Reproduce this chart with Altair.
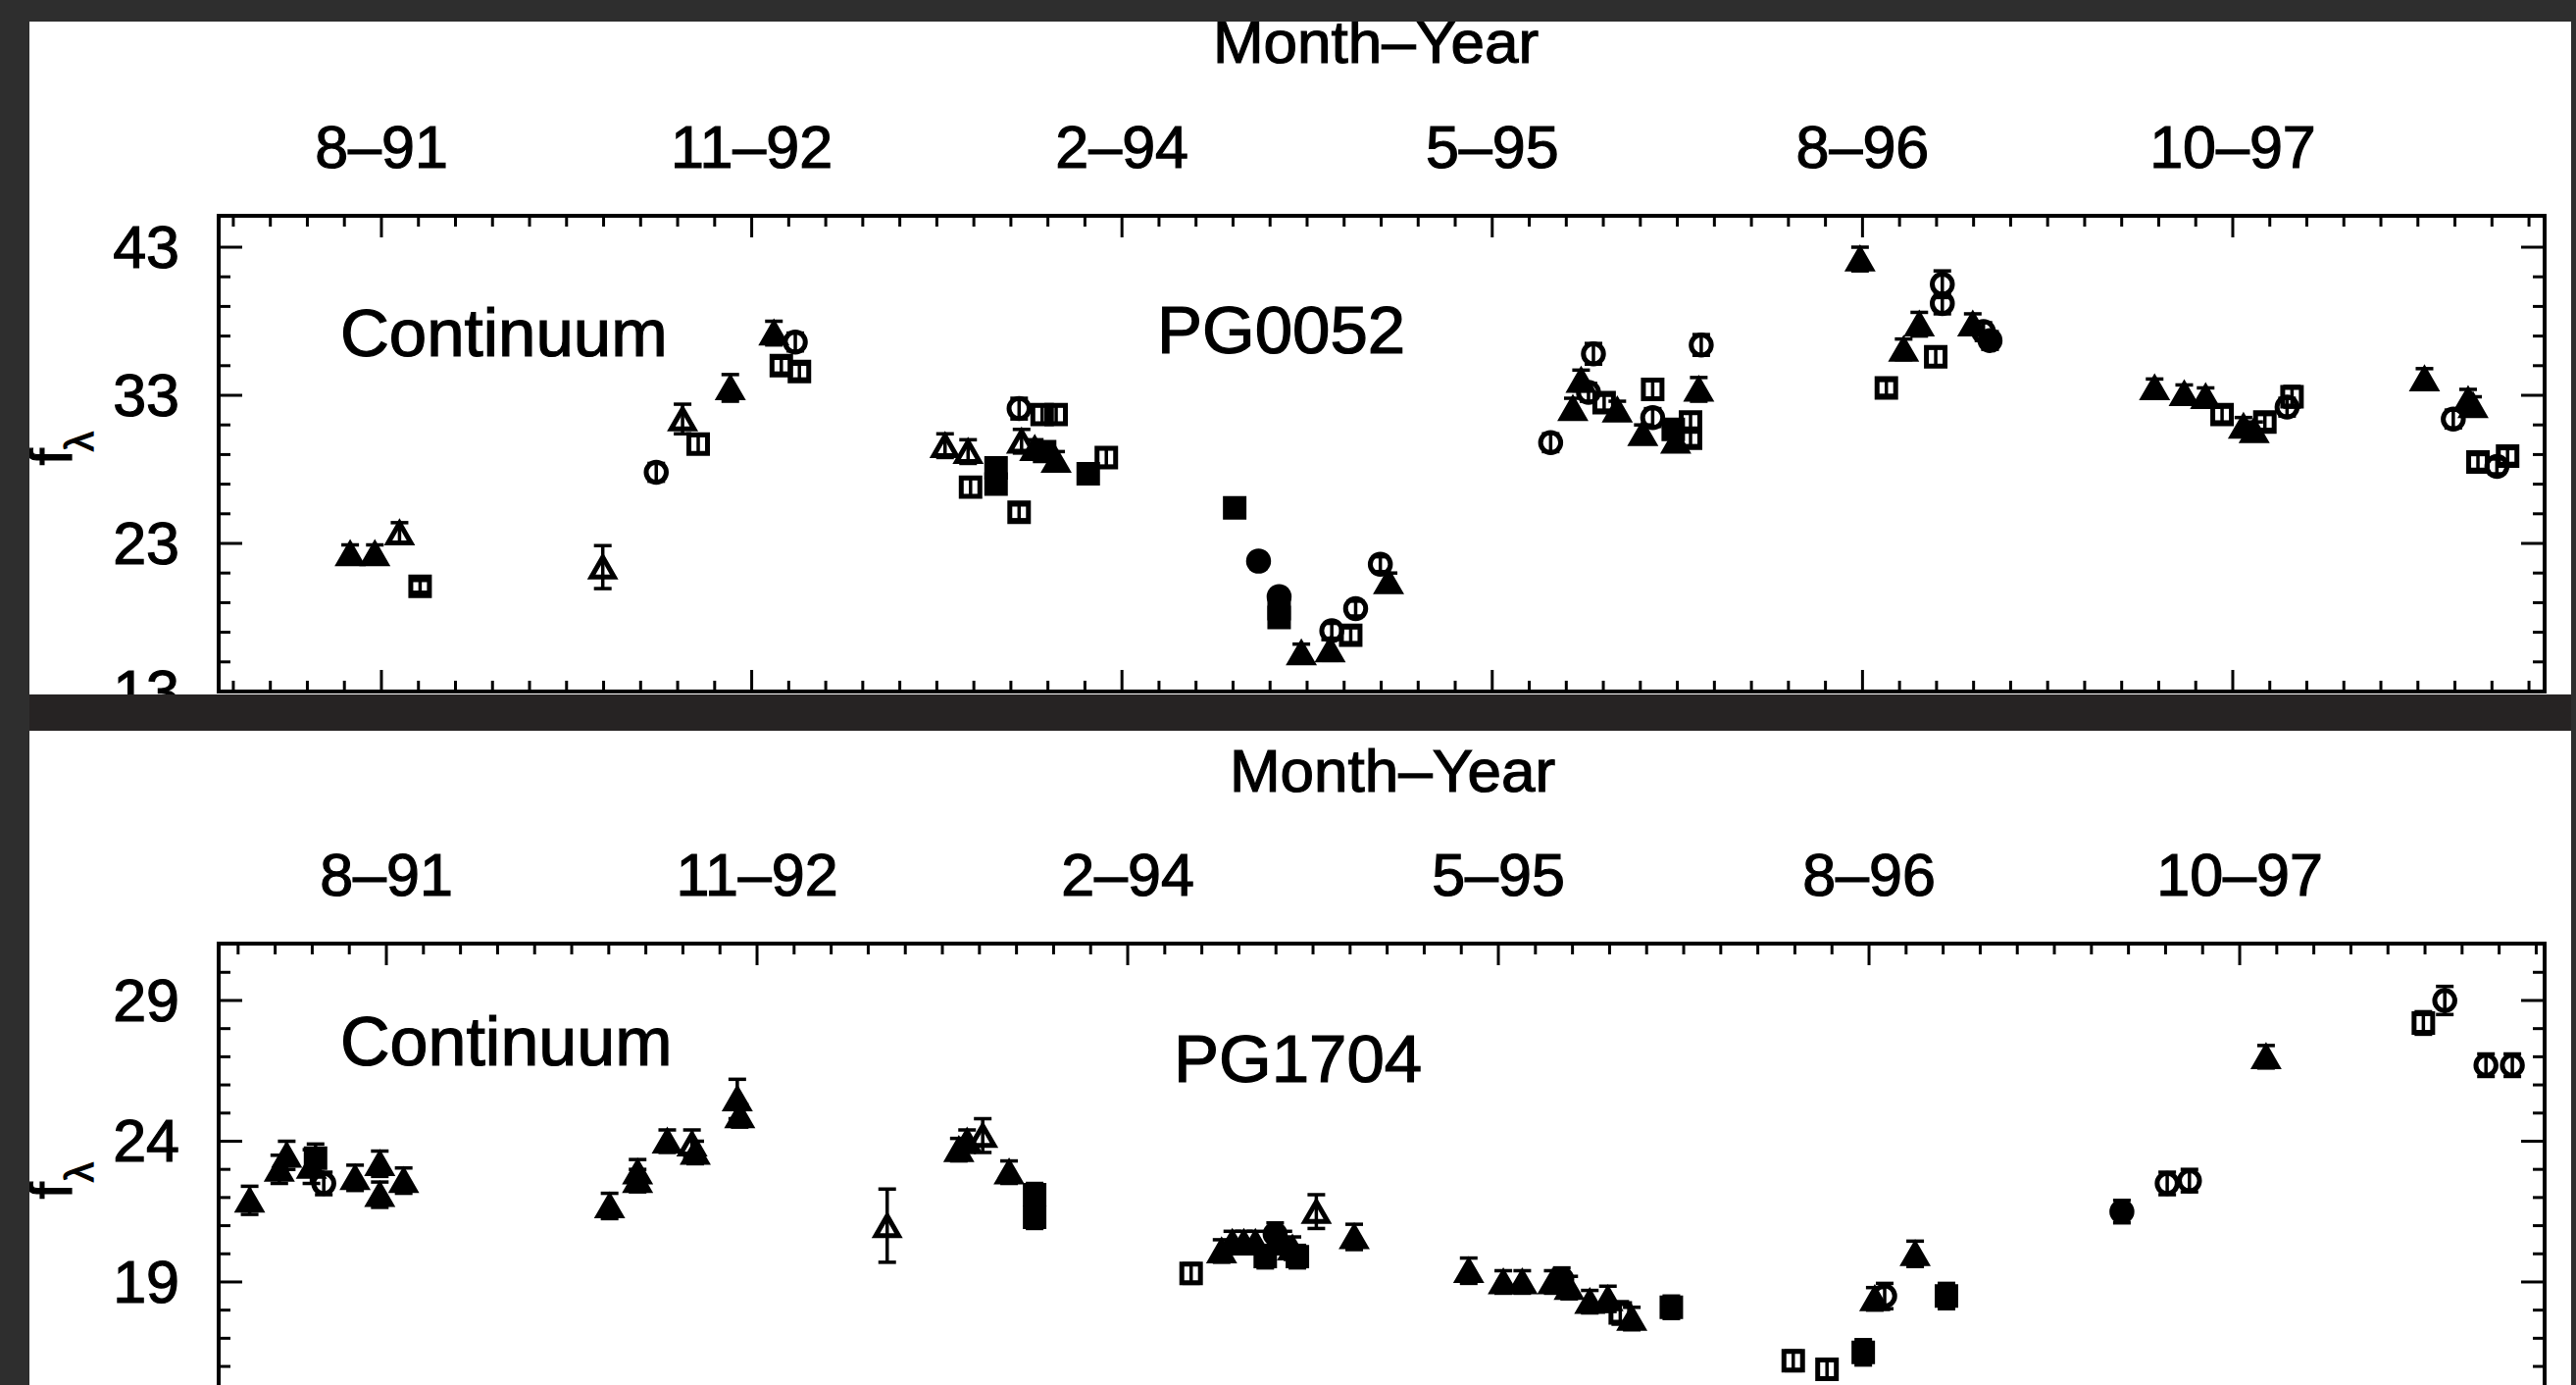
import altair as alt
import pandas as pd

FONT = "Liberation Sans"
PAGE = "#2e2e2e"
GAP = "#262323"
PLOT_W = 2372

# x positions are days counted from the 8-91 mark; labelled marks every 450 days
TICK_LABELS = ["8–91", "11–92", "2–94", "5–95", "8–96", "10–97"]
MAJOR_DAYS = [0, 450, 900, 1350, 1800, 2250]
MINOR_STEP = 45

# symbol codes: filled / open triangle, open / filled square, open / filled circle
SYMBOLS = ["tri", "otri", "sq", "fsq", "circ", "fcirc"]
SHAPES = ["triangle-up", "triangle-up", "square", "square", "circle", "circle"]
FILLS = ["black", "transparent", "transparent", "black", "transparent", "black"]
SIZES = [540, 540, 360, 360, 420, 420]

# ---- PG0052 continuum ----
pg0052_day = [-38, -8, 22, 47, 269, 334, 366, 385, 424, 477, 486, 503, 508,
              685, 713, 716, 747, 747, 775, 775, 778, 794, 803, 820, 806, 820, 859, 881,
              1037, 1066, 1091, 1091, 1091, 1118, 1153, 1155, 1178, 1184, 1214, 1224,
              1421, 1448, 1458, 1473, 1467, 1486, 1502, 1533, 1545, 1545, 1570, 1573,
              1591, 1591, 1604, 1601,
              1797, 1829, 1850, 1869, 1889, 1897, 1897, 1934, 1955, 1947,
              2155, 2191, 2217, 2237, 2263, 2276, 2289, 2316, 2322,
              2483, 2518, 2536, 2542, 2548, 2571, 2584]
pg0052_flux = [22.3, 22.3, 23.7, 20.1, 21.4, 27.8, 31.4, 29.7, 33.5, 37.2, 35.0, 36.6, 34.6,
               29.6, 29.2, 26.8, 28.1, 27.0, 32.1, 25.1, 29.9, 29.4, 31.7, 31.7, 29.2, 28.6, 27.7, 28.8,
               25.4, 21.8, 19.4, 18.6, 18.0, 15.6, 15.8, 17.1, 16.8, 18.6, 21.6, 20.4,
               29.8, 32.1, 34.0, 35.8, 33.2, 32.5, 32.0, 30.4, 33.4, 31.5, 30.7, 29.9,
               31.2, 30.1, 36.4, 33.4,
               42.2, 33.5, 36.1, 37.8, 35.6, 40.5, 39.2, 37.8, 36.7, 37.3,
               33.5, 33.1, 32.9, 31.7, 30.9, 30.6, 31.2, 32.2, 32.9,
               34.1, 31.4, 32.7, 32.3, 28.5, 28.2, 28.9]
pg0052_err = [0.6, 0.6, 0.7, 0.4, 1.45, 0.6, 1.0, 0.6, 0.9, 0.8, 0.5, 0.6, 0.5,
              0.8, 0.8, 0.6, 0.6, 0.6, 0.7, 0.5, 0.8, 0.6, 0.6, 0.6, 0.5, 0.6, 0.6, 0.6,
              0.5, 0.5, 0.5, 0.5, 0.5, 0.6, 0.7, 0.5, 0.5, 0.5, 0.5, 0.6,
              0.6, 0.7, 0.7, 0.7, 0.6, 0.5, 0.6, 0.6, 0.6, 0.6, 0.6, 0.6,
              0.6, 0.5, 0.7, 0.8,
              0.8, 0.5, 0.7, 0.8, 0.6, 0.9, 0.7, 0.7, 0.6, 0.6,
              0.6, 0.6, 0.6, 0.5, 0.6, 0.6, 0.5, 0.6, 0.7,
              0.7, 0.6, 0.7, 0.6, 0.5, 0.5, 0.5]
pg0052_sym = ["tri", "tri", "otri", "sq", "otri", "circ", "otri", "sq", "tri", "tri", "sq", "circ", "sq",
              "otri", "otri", "sq", "fsq", "fsq", "circ", "sq", "otri", "tri", "sq", "sq", "fsq", "tri", "fsq", "sq",
              "fsq", "fcirc", "fcirc", "fsq", "fsq", "tri", "tri", "circ", "sq", "circ", "circ", "tri",
              "circ", "tri", "tri", "circ", "circ", "sq", "tri", "tri", "sq", "circ", "fsq", "tri",
              "sq", "sq", "circ", "tri",
              "tri", "sq", "tri", "tri", "sq", "circ", "circ", "tri", "fcirc", "circ",
              "tri", "tri", "tri", "sq", "tri", "tri", "sq", "circ", "sq",
              "tri", "circ", "tri", "tri", "sq", "circ", "sq"]

# ---- PG1704 continuum ----
pg1704_day = [-166, -130, -121, -91, -86, -76, -38, -8, -8, 21,
              271, 305, 305, 341, 371, 375, 426, 429,
              608, 695, 705, 724, 756, 787, 787,
              977, 1014, 1027, 1041, 1055, 1067, 1079, 1089, 1100, 1106, 1129, 1175,
              1314, 1356, 1379, 1416, 1427, 1436, 1461, 1483, 1498, 1512, 1560,
              1708, 1749, 1793, 1807, 1819, 1856, 1894,
              2107, 2162, 2189, 2282, 2473, 2499, 2549, 2581]
pg1704_flux = [21.9, 23.0, 23.5, 23.1, 23.4, 22.5, 22.7, 23.2, 22.1, 22.6,
               21.7, 22.9, 22.6, 24.0, 23.9, 23.6, 25.5, 24.9,
               21.0, 23.7, 24.0, 24.2, 22.9, 22.1, 21.3,
               19.3, 20.1, 20.4, 20.4, 20.4, 19.9, 20.7, 20.4, 20.2, 19.9, 21.5, 20.6,
               19.4, 19.0, 19.0, 19.0, 19.1, 18.8, 18.3, 18.4, 17.9, 17.7, 18.1,
               16.2, 15.9, 16.5, 18.4, 18.5, 20.0, 18.5,
               21.5, 22.5, 22.6, 27.0, 28.2, 29.0, 26.7, 26.7]
pg1704_err = [0.5, 0.5, 0.5, 0.6, 0.5, 0.4, 0.45, 0.45, 0.45, 0.45,
              0.45, 0.45, 0.4, 0.4, 0.5, 0.4, 0.7, 0.4,
              1.3, 0.4, 0.4, 0.6, 0.4, 0.4, 0.4,
              0.35, 0.4, 0.4, 0.4, 0.4, 0.4, 0.4, 0.4, 0.4, 0.4, 0.6, 0.45,
              0.45, 0.4, 0.4, 0.4, 0.4, 0.4, 0.4, 0.45, 0.4, 0.4, 0.4,
              0.35, 0.35, 0.45, 0.4, 0.45, 0.45, 0.45,
              0.4, 0.4, 0.4, 0.4, 0.4, 0.5, 0.4, 0.4]
pg1704_sym = ["tri", "tri", "tri", "tri", "fsq", "circ", "tri", "tri", "tri", "tri",
              "tri", "tri", "tri", "tri", "otri", "tri", "tri", "tri",
              "otri", "tri", "tri", "otri", "tri", "fsq", "fsq",
              "sq", "tri", "tri", "tri", "tri", "fsq", "fcirc", "tri", "tri", "fsq", "otri", "tri",
              "tri", "tri", "tri", "tri", "fcirc", "tri", "tri", "tri", "sq", "tri", "fsq",
              "sq", "sq", "fsq", "tri", "circ", "tri", "fsq",
              "fcirc", "circ", "circ", "tri", "sq", "circ", "circ", "circ"]

# scanned-print look: text is slightly heavier than the plain face
TXT = dict(font=FONT, color="black", stroke="black", strokeWidth=1.2)


def const_layer():
    return alt.Chart(pd.DataFrame({"k": [0]}))


def make_panel(day, flux, err, sym, x_domain, y_domain, height, y_major, y_minor,
               name, name_xy, cont_xy, cont_size, title_xy, f_xy, lam_xy,
               strips, closed_bottom):
    df = pd.DataFrame({"day": day, "flux": flux, "err": err, "sym": sym})
    xs = alt.Scale(domain=x_domain, nice=False, zero=False)
    ys = alt.Scale(domain=y_domain, nice=False, zero=False)
    minor_days = [d for d in range(-180, int(x_domain[1]) + 1, MINOR_STEP) if d % 450 != 0]
    major_x = alt.Chart(pd.DataFrame({"d": MAJOR_DAYS, "lab": TICK_LABELS}))
    minor_x = alt.Chart(pd.DataFrame({"d": minor_days}))
    major_y = alt.Chart(pd.DataFrame({"v": y_major, "lab": [str(v) for v in y_major]}))
    minor_y = alt.Chart(pd.DataFrame({"v": y_minor}))
    X = alt.X("d:Q", scale=xs, axis=None)
    Y = alt.Y("v:Q", scale=ys, axis=None)
    DX = alt.X("day:Q", scale=xs, axis=None)

    layers = []

    # error bars with caps
    eb = alt.Chart(df).transform_calculate(
        lo="datum.flux - datum.err", hi="datum.flux + datum.err")
    layers.append(eb.mark_rule(color="black", strokeWidth=3.5).encode(
        x=DX, y=alt.Y("lo:Q", scale=ys, axis=None), y2="hi:Q"))
    for end in ["hi", "lo"]:
        layers.append(eb.mark_tick(orient="horizontal", color="black", size=18,
                                   thickness=3.5, opacity=1).encode(
            x=DX, y=alt.Y(end + ":Q", scale=ys, axis=None)))

    # data symbols
    layers.append(alt.Chart(df).mark_point(opacity=1, strokeWidth=5, stroke="black").encode(
        x=DX,
        y=alt.Y("flux:Q", scale=ys, axis=None),
        shape=alt.Shape("sym:N", scale=alt.Scale(domain=SYMBOLS, range=SHAPES), legend=None),
        fill=alt.Fill("sym:N", scale=alt.Scale(domain=SYMBOLS, range=FILLS), legend=None),
        size=alt.Size("sym:N", scale=alt.Scale(type="ordinal", domain=SYMBOLS, range=SIZES),
                      legend=None),
    ))

    # frame
    frame = dict(color="black", strokeWidth=4, strokeCap="square")
    layers.append(const_layer().mark_rule(**frame).encode(
        x=alt.value(0), y=alt.value(0), y2=alt.value(height)))
    layers.append(const_layer().mark_rule(**frame).encode(
        x=alt.value(PLOT_W), y=alt.value(0), y2=alt.value(height)))
    layers.append(const_layer().mark_rule(**frame).encode(
        x=alt.value(0), x2=alt.value(PLOT_W), y=alt.value(0)))
    if closed_bottom:
        layers.append(const_layer().mark_rule(**frame).encode(
            x=alt.value(0), x2=alt.value(PLOT_W), y=alt.value(height)))

    # inward ticks
    tk = dict(color="black", strokeWidth=3)
    layers.append(major_x.mark_rule(**tk).encode(x=X, y=alt.value(0), y2=alt.value(22)))
    layers.append(minor_x.mark_rule(**tk).encode(x=X, y=alt.value(0), y2=alt.value(11)))
    if closed_bottom:
        layers.append(major_x.mark_rule(**tk).encode(
            x=X, y=alt.value(height), y2=alt.value(height - 22)))
        layers.append(minor_x.mark_rule(**tk).encode(
            x=X, y=alt.value(height), y2=alt.value(height - 11)))
    layers.append(major_y.mark_rule(**tk).encode(y=Y, x=alt.value(0), x2=alt.value(24)))
    layers.append(minor_y.mark_rule(**tk).encode(y=Y, x=alt.value(0), x2=alt.value(12)))
    layers.append(major_y.mark_rule(**tk).encode(
        y=Y, x=alt.value(PLOT_W), x2=alt.value(PLOT_W - 24)))
    layers.append(minor_y.mark_rule(**tk).encode(
        y=Y, x=alt.value(PLOT_W), x2=alt.value(PLOT_W - 12)))

    # tick labels, placed through the scales
    layers.append(major_x.mark_text(fontSize=61, align="center", baseline="middle", **TXT).encode(
        x=X, y=alt.value(-67), text="lab:N"))
    layers.append(major_y.mark_text(fontSize=61, align="right", baseline="middle", dy=3, **TXT).encode(
        y=Y, x=alt.value(-40), text="lab:N"))

    # annotations
    layers.append(const_layer().mark_text(text="Continuum", fontSize=cont_size, align="left",
                                          baseline="alphabetic", **TXT).encode(
        x=alt.value(cont_xy[0]), y=alt.value(cont_xy[1])))
    layers.append(const_layer().mark_text(text=name, fontSize=69, align="left",
                                          baseline="alphabetic", **TXT).encode(
        x=alt.value(name_xy[0]), y=alt.value(name_xy[1])))
    layers.append(const_layer().mark_text(text="Month–Year", fontSize=62, align="center",
                                          baseline="alphabetic", **TXT).encode(
        x=alt.value(title_xy[0]), y=alt.value(title_xy[1])))
    layers.append(const_layer().mark_text(text="f", fontSize=62, align="center",
                                          baseline="alphabetic", angle=270, **TXT).encode(
        x=alt.value(f_xy[0]), y=alt.value(f_xy[1])))
    layers.append(const_layer().mark_text(text="λ", fontSize=40, align="center",
                                          baseline="alphabetic", angle=270, **TXT).encode(
        x=alt.value(lam_xy[0]), y=alt.value(lam_xy[1])))

    # dark page strips framing the white sheet
    for (x1, x2, y1, y2, col) in strips:
        layers.append(const_layer().mark_rect(color=col).encode(
            x=alt.value(x1), x2=alt.value(x2), y=alt.value(y1), y2=alt.value(y2)))

    return alt.layer(*layers).properties(width=PLOT_W, height=height)


top = make_panel(
    pg0052_day, pg0052_flux, pg0052_err, pg0052_sym,
    x_domain=[-197.8, 2629.0], y_domain=[13.0, 45.12], height=485,
    y_major=[13, 23, 33, 43],
    y_minor=[15, 17, 19, 21, 25, 27, 29, 31, 35, 37, 39, 41],
    name="PG0052", name_xy=(957, 140), cont_xy=(124, 143), cont_size=69,
    title_xy=(1180, -156), f_xy=(-150, 246), lam_xy=(-128, 230),
    strips=[(-223, 2404, -220, -198, PAGE),
            (-223, -193, -220, 488, PAGE),
            (2399, 2404, -220, 488, PAGE)],
    closed_bottom=True,
)

bottom = make_panel(
    pg1704_day, pg1704_flux, pg1704_err, pg1704_sym,
    x_domain=[-203.6, 2620.2], y_domain=[15.34, 31.02], height=450,
    y_major=[19, 24, 29],
    y_minor=[16, 17, 18, 20, 21, 22, 23, 25, 26, 27, 28, 30],
    name="PG1704", name_xy=(974, 141), cont_xy=(124, 124), cont_size=70,
    title_xy=(1197, -155), f_xy=(-150, 252), lam_xy=(-128, 233),
    strips=[(-223, 2404, -254, -217, GAP),
            (-223, -193, -254, 450, PAGE),
            (2399, 2404, -254, 450, PAGE)],
    closed_bottom=False,
)

chart = (
    alt.vconcat(top, bottom, spacing=257, bounds="flush")
    .resolve_scale(x="independent", y="independent")
    .properties(background="white", padding=0)
    .configure_view(strokeWidth=0)
)

chart.save("out.html", embed_options={"renderer": "svg", "actions": False})
